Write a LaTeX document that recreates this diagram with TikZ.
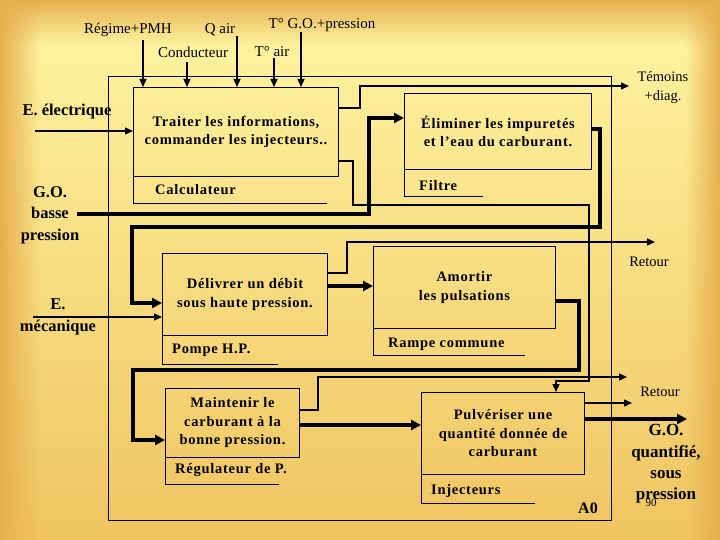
\documentclass[tikz,border=0pt]{standalone}
\usepackage{fontspec}
\setmainfont{Liberation Serif}
\newfontfamily\spaced[LetterSpace=5]{Liberation Serif}
\usetikzlibrary{arrows.meta,fadings}
\definecolor{bgtop}{RGB}{255,246,164}
\definecolor{bgbot}{RGB}{240,196,96}
\definecolor{edge}{RGB}{231,176,78}
\tikzfading[name=fadeR, left color=transparent!0, right color=transparent!100]
\tikzfading[name=fadeL, left color=transparent!100, right color=transparent!0]
\tikzfading[name=fadeD, top color=transparent!0, bottom color=transparent!100]
\tikzset{
  box/.style={draw, line width=1pt, anchor=north west, inner sep=0pt, align=center,
    font=\spaced\fontsize{14.5}{18.5}\selectfont\bfseries},
  mech/.style={anchor=west, inner sep=0pt, font=\spaced\fontsize{14.5}{18}\selectfont\bfseries},
  lab/.style={inner sep=0pt, align=center, font=\fontsize{15}{18}\selectfont},
  blab/.style={inner sep=0pt, align=center, font=\fontsize{16.5}{21.5}\selectfont\bfseries},
  thinarrow/.style={line width=1.3pt, -{Triangle[length=8pt,width=7pt]}},
  thickarrow/.style={line width=3.8pt, -{Triangle[length=10pt,width=10pt]}},
  thinline/.style={line width=1.3pt},
  frameline/.style={line width=1pt},
}
\begin{document}
\begin{tikzpicture}[x=1pt,y=-1pt]
\useasboundingbox (0,0) rectangle (720,540);
% background
\shade[top color=bgtop, bottom color=bgbot] (0,0) rectangle (720,540);
\fill[edge, path fading=fadeD] (0,0) rectangle (720,45);
\fill[edge, path fading=fadeR] (0,0) rectangle (40,540);
\fill[edge, path fading=fadeL] (685,0) rectangle (720,540);

% outer frame
\node[draw, frameline, anchor=north west, minimum width=503pt, minimum height=444pt, inner sep=0pt] (frame) at (108,76) {};
\node[font=\fontsize{16}{18}\selectfont\bfseries, inner sep=0pt] (a0) at (588,508) {A0};

% boxes
\node[box, minimum width=205pt, minimum height=89pt] (b1) at (133,87) {Traiter les informations,\\commander les injecteurs..};
\node[box, minimum width=187pt, minimum height=76pt] (b2) at (404,93) {Éliminer les impuretés\\et l’eau du carburant.};
\node[box, minimum width=165pt, minimum height=82pt] (b3) at (162,253) {Délivrer un débit\\sous haute pression.};
\node[box, minimum width=182pt, minimum height=82pt] (b4) at (373,246) {Amortir\\les pulsations};
\node[box, minimum width=134pt, minimum height=69pt] (b5) at (165,388) {Maintenir le\\carburant à la\\bonne pression.};
\node[box, minimum width=163pt, minimum height=82pt] (b6) at (421,392) {Pulvériser une\\quantité donnée de\\carburant};

% mechanism strips
\draw[frameline] (b1.south west) -- ++(0,27) coordinate (m1) -- ++(194,0);
\node[mech] (calc) at (155,190) {Calculateur};
\draw[frameline] (b2.south west) -- ++(0,27) -- ++(79,0);
\node[mech] (filt) at (419,186) {Filtre};
\draw[frameline] (b3.south west) -- ++(0,28) -- ++(116,0);
\node[mech] (pomp) at (172,350) {Pompe H.P.};
\draw[frameline] (b4.south west) -- ++(0,26) -- ++(152,0);
\node[mech] (ramp) at (388,344) {Rampe commune};
\draw[frameline] (b5.south west) -- ++(0,26) -- ++(114,0);
\node[mech] (regu) at (175,470) {Régulateur de P.};
\draw[frameline] (b6.south west) -- ++(0,28) -- ++(114,0);
\node[mech] (inj) at (431,491) {Injecteurs};

% top controls
\node[lab] (regime) at (128,30) {Régime+PMH};
\node[lab] (qair) at (220,30) {Q air};
\node[lab] (tgo) at (322,25) {T° G.O.+pression};
\node[lab] (cond) at (193,52) {Conducteur};
\node[lab] (tair) at (272,52) {T° air};
\coordinate (c1) at (143,40);
\coordinate (c2) at (187,62);
\coordinate (c3) at (237,36);
\coordinate (c4) at (274,58);
\coordinate (c5) at (301,32);
\foreach \c in {c1,c2,c3,c4,c5}{\draw[thinarrow] (\c) -- (\c |- b1.north);}

% left inputs
\node[blab] (eel) at (67,112) {E. électrique};
\node[blab] (gob) at (50,215) {G.O.\\basse\\pression};
\node[blab] (emec) at (58,317) {E.\\mécanique};
\coordinate (eelS) at (35,131);
\draw[thinarrow] (eelS) -- (eelS -| b1.west);
\coordinate (gobS) at (77,214);
\draw[thickarrow] (gobS) -- (369,214) -- (369,118) -- (369,118 -| b2.west);
\coordinate (emecS) at (33,317);
\draw[thinarrow] (emecS) -- (emecS -| b3.west);

% right outputs labels
\node[lab, font=\fontsize{14.5}{19}\selectfont] (temo) at (663,88) {Témoins\\+diag.};
\coordinate (temoE) at (629,86);
\node[lab, font=\fontsize{14.5}{18}\selectfont] (ret1) at (649,262) {Retour};
\coordinate (ret1E) at (655,242);
\node[lab, font=\fontsize{14.5}{18}\selectfont] (ret2) at (660,392) {Retour};
\coordinate (ret2E) at (627,377);
\coordinate (ret3E) at (632,403);
\node[blab, font=\fontsize{17}{21.3}\selectfont\bfseries] (goq) at (666,464) {G.O.\\quantifié,\\sous\\pression};
\coordinate (goqE) at (687,419);
\node[inner sep=0pt, font=\fontsize{11}{12}\selectfont] (num) at (651,503) {90};

% connectors
\draw[thinarrow] (b1.east |- 0,108) -- (360,108) -- (360,86) -- (temoE);
\draw[thinarrow] (b1.east |- 0,161) -- (353,161) -- (353,205) -- (589,205) -- (589,381) -- (556,381) -- (556,381 |- b6.north);
\draw[thickarrow] (b2.east |- 0,129) -- (600,129) -- (600,227) -- (132,227) -- (132,303) -- (132,303 -| b3.west);
\draw[thinarrow] (b3.east |- 0,273) -- (347,273) -- (347,242) -- (ret1E);
\draw[thickarrow] (b3.east |- 0,286) -- (b3.east |- 0,286 -| b4.west);
\draw[thickarrow] (b4.east |- 0,301) -- (579,301) -- (579,370) -- (133,370) -- (133,440) -- (133,440 -| b5.west);
\draw[thinarrow] (b5.east |- 0,410) -- (318,410) -- (318,377) -- (ret2E);
\draw[thickarrow] (b5.east |- 0,425) -- (b5.east |- 0,425 -| b6.west);
\draw[thinarrow] (b6.east |- 0,403) -- (ret3E);
\draw[thickarrow] (b6.east |- 0,419) -- (goqE);
\end{tikzpicture}
\end{document}
